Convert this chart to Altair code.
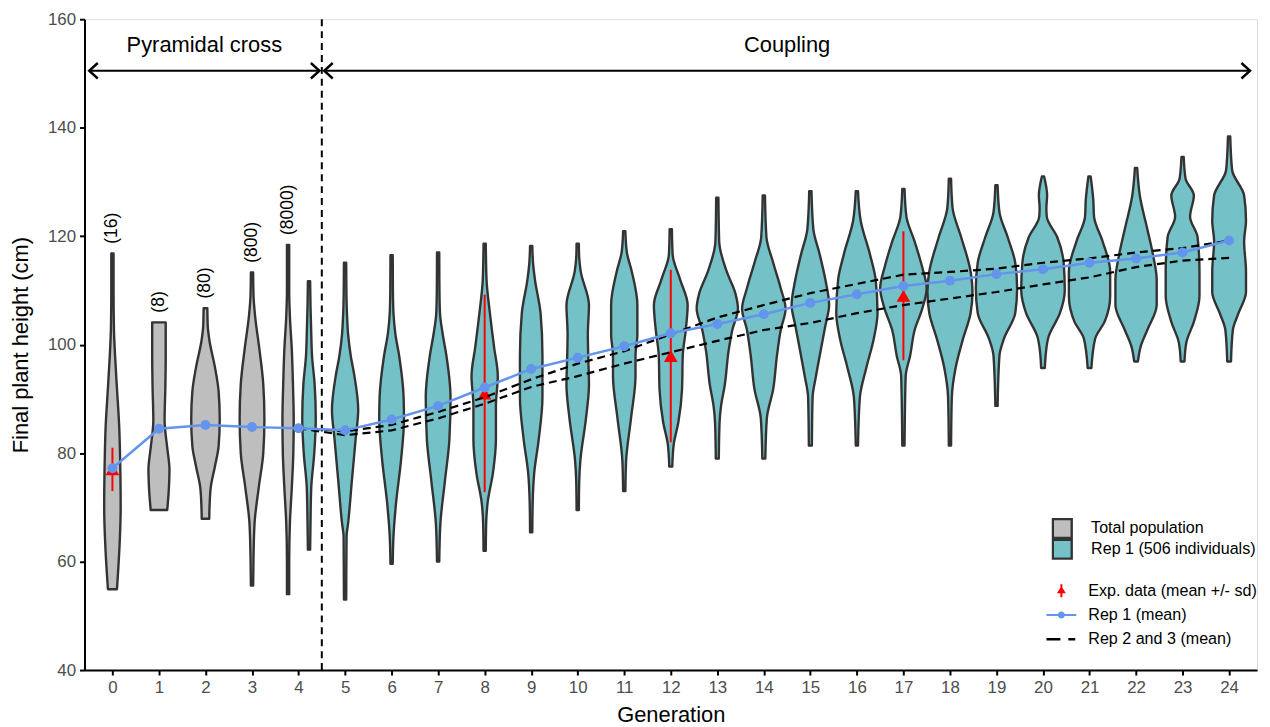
import altair as alt
import pandas as pd

FONT = "Liberation Sans"

# ---------------- data ----------------
GENERATIONS = list(range(25))
REP1_MEAN = [77.2, 84.5, 85.2, 84.8, 84.6, 84.2, 86.2, 88.7, 92.1, 95.5, 97.6, 99.7,
             102.1, 103.8, 105.6, 107.7, 109.3, 110.8, 111.8, 113.0, 113.9, 115.1,
             115.9, 117.0, 119.2]

REP23_GENS = list(range(4, 25))
REP2_MEAN = [84.6, 84.0, 85.2, 87.6, 90.3, 93.6, 96.5, 98.8, 101.9, 105.0, 107.3,
             109.5, 111.2, 112.9, 113.4, 114.0, 115.1, 115.9, 117.0, 117.8, 119.2]
REP3_MEAN = [84.6, 83.3, 84.2, 86.4, 89.1, 92.2, 94.2, 96.5, 98.6, 100.7, 102.7,
             104.0, 105.8, 107.3, 108.5, 109.7, 111.1, 112.4, 114.3, 115.5, 116.0]

EXP_GENS = [0, 8, 12, 17]
EXP_MEAN = [77.0, 91.0, 97.9, 109.0]
EXP_SD = [4.0, 18.2, 15.9, 11.9]

# violin profiles: (plant height, relative density width)
V_G0 = [(54.9, 12), (58, 15), (63, 19), (70, 22), (77, 21), (85, 18), (92, 12), (98, 7), (103, 4), (110, 3), (116.8, 3)]
V_G1 = [(69.5, 22), (73, 26), (77, 28), (81, 22), (86, 15), (92, 17), (98, 18), (104.1, 18)]
V_G2 = [(67.9, 10), (70.5, 11), (73.7, 14), (77.5, 25), (81.3, 35), (86.3, 38), (91.4, 35), (95.9, 25), (101, 10), (103.5, 6), (106.7, 5)]
V_G3 = [(55.6, 3), (61, 4), (67.3, 7), (73.7, 18), (80, 30), (86.3, 33), (92.7, 30), (99, 20), (105.4, 8), (109, 4), (113.3, 3)]
V_G4_TOTAL = [(54, 3), (60, 3), (67.3, 5), (73.7, 10), (80, 14), (86.3, 15), (92.7, 13), (99, 10), (105, 5), (110, 3), (118.4, 3)]
V_G4 = [(62.2, 3), (67.3, 4), (73.7, 6), (80, 14), (86.3, 18), (92.7, 15), (98, 8), (102, 6), (107, 4), (111.7, 3)]
V_G5 = [(53, 3), (60, 3.5), (64.7, 4), (67, 8), (74.8, 18), (82.5, 28), (88, 35), (94.2, 25), (98, 15), (102, 8), (105.8, 5), (110, 3.5), (115.1, 3)]
V_G6 = [(59.6, 3), (64.7, 5), (70.9, 12), (78.6, 25), (86.4, 33), (90.3, 32), (98, 20), (102, 10), (105.8, 5), (110, 3.5), (116.5, 3)]
V_G7 = [(60, 3), (67, 6), (74.8, 18), (82.5, 30), (90.3, 33), (98, 22), (102, 12), (105.8, 5), (110, 3.5), (117, 3)]
V_G8 = [(62, 3), (67, 4), (70.9, 8), (76.3, 22), (82.5, 30), (88.7, 30), (94.2, 35), (99.6, 25), (105.8, 14), (112, 5), (118.6, 3)]
V_G9 = [(65.4, 3), (70.9, 4), (76.3, 8), (82.5, 20), (90.3, 30), (98, 30), (105.8, 25), (112, 10), (115, 5), (118.2, 3)]
V_G10 = [(69.5, 3), (74.8, 4), (78.6, 7), (86.4, 22), (92.6, 30), (98, 28), (101.9, 27), (107.3, 30), (113.5, 8), (116, 4), (118.6, 3)]
V_G11 = [(73, 3), (78.6, 5), (86.4, 18), (94.2, 30), (98, 30), (101.9, 35), (107.3, 35), (113.5, 20), (117, 7), (120.9, 3)]
V_G12 = [(77.5, 4), (81.7, 8), (85.6, 20), (91.8, 30), (98, 32), (102.7, 40), (107.3, 45), (112, 25), (116.6, 5), (121.3, 3)]
V_G13 = [(79, 4), (85.6, 6), (88.7, 10), (92.6, 20), (98.8, 30), (102.7, 40), (106.6, 55), (109.5, 48), (113.5, 25), (119, 5), (127.1, 3)]
V_G14 = [(79, 4), (86.4, 8), (91.8, 25), (98, 35), (102.7, 45), (106.6, 58), (110.4, 45), (115.1, 25), (119.8, 7), (127.5, 3)]
V_G15 = [(81.4, 4), (90.3, 6), (94.2, 15), (98, 25), (103.5, 40), (107.3, 50), (112, 40), (116.6, 25), (121.3, 8), (128.3, 3)]
V_G16 = [(81.4, 3), (90.3, 8), (95.7, 25), (101.1, 45), (105.8, 55), (112, 50), (116.6, 35), (122.9, 10), (128.3, 3)]
V_G17 = [(81.4, 3), (94.2, 6), (98, 18), (102.7, 30), (106.6, 50), (110.4, 62), (114.3, 50), (119, 30), (123.6, 8), (128.7, 3)]
V_G18 = [(81.4, 3), (90.3, 5), (95.7, 15), (101.1, 35), (105.8, 55), (109.7, 60), (113.5, 55), (119.8, 30), (125.2, 7), (130.6, 3)]
V_G19 = [(88.7, 3), (98, 8), (101.1, 20), (105.8, 50), (110.4, 55), (115.1, 50), (119.8, 30), (124.4, 8), (129.4, 3)]
V_G20 = [(95.7, 5), (98, 7), (101.5, 15), (105.8, 45), (110, 58), (115.1, 55), (119.8, 38), (123.6, 10), (125.2, 9), (127.5, 11), (131, 3)]
V_G21 = [(95.7, 5), (101.1, 15), (104.2, 40), (108.9, 55), (113.5, 55), (119, 35), (123.6, 12), (126.7, 10), (131, 3)]
V_G22 = [(96.9, 5), (99.6, 12), (102.7, 30), (107.3, 55), (112, 55), (116.6, 45), (121.3, 30), (127.5, 10), (132.6, 3)]
V_G23 = [(96.9, 5), (100.4, 10), (104.2, 30), (108.9, 45), (113.5, 45), (119.8, 40), (123.6, 20), (127.5, 30), (130.6, 8), (134.6, 3)]
V_G24 = [(96.9, 5), (102.7, 10), (105.8, 25), (109.7, 45), (113.5, 45), (119, 40), (122.9, 45), (127.5, 40), (132.2, 8), (138.4, 3)]

GROUPS = ["Total population", "Rep 1 (506 individuals)"]
VIOLIN_LIST = [
    (GROUPS[0], 0, V_G0), (GROUPS[0], 1, V_G1), (GROUPS[0], 2, V_G2), (GROUPS[0], 3, V_G3),
    (GROUPS[0], 4, V_G4_TOTAL), (GROUPS[1], 4, V_G4),
    (GROUPS[1], 5, V_G5), (GROUPS[1], 6, V_G6), (GROUPS[1], 7, V_G7), (GROUPS[1], 8, V_G8),
    (GROUPS[1], 9, V_G9), (GROUPS[1], 10, V_G10), (GROUPS[1], 11, V_G11), (GROUPS[1], 12, V_G12),
    (GROUPS[1], 13, V_G13), (GROUPS[1], 14, V_G14), (GROUPS[1], 15, V_G15), (GROUPS[1], 16, V_G16),
    (GROUPS[1], 17, V_G17), (GROUPS[1], 18, V_G18), (GROUPS[1], 19, V_G19), (GROUPS[1], 20, V_G20),
    (GROUPS[1], 21, V_G21), (GROUPS[1], 22, V_G22), (GROUPS[1], 23, V_G23), (GROUPS[1], 24, V_G24),
]

COUNT_LABELS = ["(16)", "(8)", "(80)", "(800)", "(8000)"]

PHASE_NAMES = ["Pyramidal cross", "Coupling"]
PHASE_START = [-0.5, 4.55]
PHASE_END = [4.45, 24.45]
PHASE_BOUNDARY = [4.5]
ARROW_HEIGHT = 150.5
PHASE_TEXT_HEIGHT = 155.3

LINE_ITEMS = ["Exp. data (mean +/- sd)", "Rep 1 (mean)", "Rep 2 and 3 (mean)"]

# ---------------- styling ----------------
GREY = "#BEBEBE"
TEAL = "#74C2C8"
OUTLINE = "#333333"
BLUE = "#6495ED"
RED = "#FF0000"
WIDTH_SCALE = 1 / 124.0
DODGE = 0.225
LEG_FONT = 16.2

W, H = 1180, 655

XSCALE = alt.Scale(domain=[-0.6, 24.6], nice=False, zero=False)
YSCALE = alt.Scale(domain=[40, 160], nice=False, zero=False)
XAXIS = alt.Axis(values=GENERATIONS, title="Generation", grid=False, labelColor="#4D4D4D",
                 labelFontSize=17, labelFont=FONT, tickColor="black", tickWidth=2, tickSize=5,
                 domainColor="black", domainWidth=2, labelPadding=5, titleFontSize=22,
                 titleFont=FONT, titleFontWeight="normal", titleColor="black", titlePadding=9,
                 format="d")
YAXIS = alt.Axis(values=[40, 60, 80, 100, 120, 140, 160], title="Final plant height (cm)", grid=False,
                 labelColor="#4D4D4D", labelFontSize=17, labelFont=FONT, tickColor="black",
                 tickWidth=2, tickSize=5, domainColor="black", domainWidth=2, labelPadding=4,
                 titleFontSize=22, titleFont=FONT, titleFontWeight="normal", titleColor="black",
                 titlePadding=15)


def X(field):
    return alt.X(field, type="quantitative", scale=XSCALE, axis=XAXIS)


def Y(field):
    return alt.Y(field, type="quantitative", scale=YSCALE, axis=YAXIS)


# ---------------- tables ----------------
rows = []
tops = []
for i, (grp, gen, prof) in enumerate(VIOLIN_LIST):
    centre = gen
    same = [g for (_, g, _) in VIOLIN_LIST if g == gen]
    if len(same) > 1:
        centre = gen - DODGE if grp == GROUPS[0] else gen + DODGE
    for h, w in prof:
        rows.append({"vid": i, "group": grp, "h": h,
                     "left": centre - w * WIDTH_SCALE, "right": centre + w * WIDTH_SCALE})
    if grp == GROUPS[0]:
        tops.append((centre, max(p[0] for p in prof)))
vdf = pd.DataFrame(rows)

lab_df = pd.DataFrame({"x": [t[0] for t in tops], "y": [t[1] + 1.8 for t in tops],
                       "t": COUNT_LABELS})

rep1_df = pd.DataFrame({"gen": GENERATIONS, "m": REP1_MEAN})
rep23_df = pd.DataFrame({"gen": REP23_GENS * 2, "m": REP2_MEAN + REP3_MEAN,
                         "rep": ["Rep 2"] * len(REP23_GENS) + ["Rep 3"] * len(REP23_GENS)})
exp_df = pd.DataFrame({"gen": EXP_GENS, "m": EXP_MEAN,
                       "lo": [m - s for m, s in zip(EXP_MEAN, EXP_SD)],
                       "hi": [m + s for m, s in zip(EXP_MEAN, EXP_SD)]})
phase_df = pd.DataFrame({"name": PHASE_NAMES, "start": PHASE_START, "end": PHASE_END,
                         "mid": [(a + b) / 2 for a, b in zip(PHASE_START, PHASE_END)],
                         "ay": [ARROW_HEIGHT] * 2, "ty": [PHASE_TEXT_HEIGHT] * 2})
bound_df = pd.DataFrame({"b": PHASE_BOUNDARY})
leg_df = pd.DataFrame({"item": LINE_ITEMS})

# ---------------- layers ----------------
violins = alt.Chart(vdf).mark_area(
    orient="horizontal", interpolate="monotone", stroke=OUTLINE, strokeWidth=2.4, strokeJoin="round"
).encode(
    y=Y("h"), x=X("left"), x2="right",
    fill=alt.Fill("group:N", scale=alt.Scale(domain=GROUPS, range=[GREY, TEAL]),
                  legend=alt.Legend(title=None, orient="none", legendX=973, legendY=502,
                                    symbolType="square", symbolSize=361, symbolStrokeColor=OUTLINE,
                                    symbolStrokeWidth=2.4, symbolOpacity=1, labelFontSize=LEG_FONT,
                                    labelFont=FONT, labelColor="black", labelOffset=18,
                                    labelLimit=400, rowPadding=0, clipHeight=21, padding=0)),
    detail="vid:N",
)

boundary = alt.Chart(bound_df).mark_rule(color="black", strokeWidth=2, strokeDash=[7, 5]).encode(x=X("b"))

exp_bars = alt.Chart(exp_df).mark_rule(color=RED, strokeWidth=2).encode(x=X("gen"), y=Y("lo"), y2="hi")
exp_pts = alt.Chart(exp_df).mark_point(shape="triangle-up", filled=True, color=RED, size=190,
                                       opacity=1).encode(x=X("gen"), y=Y("m"))

rep23 = alt.Chart(rep23_df).mark_line(color="black", strokeWidth=2.2, strokeDash=[8, 5]).encode(
    x=X("gen"), y=Y("m"), detail="rep:N")
rep1_line = alt.Chart(rep1_df).mark_line(color=BLUE, strokeWidth=2.5).encode(x=X("gen"), y=Y("m"))
rep1_pts = alt.Chart(rep1_df).mark_point(filled=True, color=BLUE, size=100, opacity=1).encode(
    x=X("gen"), y=Y("m"))

arrow_line = alt.Chart(phase_df).mark_rule(color="black", strokeWidth=2.2).encode(
    x=X("start"), x2="end", y=Y("ay"))
arrow_left = alt.Chart(phase_df).mark_point(shape="M1,-0.9 L0,0 L1,0.9", filled=False, color="black",
                                            strokeWidth=2.4, size=300, opacity=1).encode(
    x=X("start"), y=Y("ay"))
arrow_right = alt.Chart(phase_df).mark_point(shape="M-1,-0.9 L0,0 L-1,0.9", filled=False, color="black",
                                             strokeWidth=2.4, size=300, opacity=1).encode(
    x=X("end"), y=Y("ay"))
phase_text = alt.Chart(phase_df).mark_text(fontSize=22, font=FONT, color="black",
                                           baseline="middle").encode(
    x=X("mid"), y=Y("ty"), text="name:N")

count_text = alt.Chart(lab_df).mark_text(angle=270, align="left", baseline="middle", fontSize=17.6,
                                         font=FONT, color="black").encode(
    x=X("x"), y=Y("y"), text="t:N")

LEG_PATHS = [
    "M-0.2,-1.3 L0.2,-1.3 L0.2,1.3 L-0.2,1.3 Z M0,-0.9 L0.9,0.5 L-0.9,0.5 Z",
    "M-3,-0.22 L3,-0.22 L3,0.22 L-3,0.22 Z M-0.7,0 A0.7,0.7 0 1,1 0.7,0 A0.7,0.7 0 1,1 -0.7,0 Z",
    "M-3,-0.25 L-0.2,-0.25 L-0.2,0.25 L-3,0.25 Z M1.4,-0.25 L2.8,-0.25 L2.8,0.25 L1.4,0.25 Z",
]
line_legend = alt.Legend(title=None, orient="none", legendX=975, legendY=567, symbolSize=100,
                         symbolOpacity=1, symbolStrokeWidth=0, labelFontSize=LEG_FONT, labelFont=FONT,
                         labelColor="black", labelOffset=19, labelLimit=400, rowPadding=7.5, padding=0)
legend_layer = alt.Chart(leg_df).mark_point(filled=True, opacity=0, size=100).encode(
    color=alt.Color("item:N", scale=alt.Scale(domain=LINE_ITEMS, range=[RED, BLUE, "black"]),
                    legend=line_legend),
    shape=alt.Shape("item:N", scale=alt.Scale(domain=LINE_ITEMS, range=LEG_PATHS), legend=line_legend),
)

chart = alt.layer(
    violins, boundary, exp_bars, exp_pts, rep23, rep1_line, rep1_pts,
    arrow_line, arrow_left, arrow_right, phase_text, count_text, legend_layer,
).properties(
    width=W, height=H,
    autosize=alt.AutoSizeParams(type="none"),
    padding={"left": 77, "top": 9, "right": 5, "bottom": 54},
).configure_view(strokeWidth=0).configure(font=FONT)

chart.save("out.html", embed_options={"renderer": "svg", "actions": False})
